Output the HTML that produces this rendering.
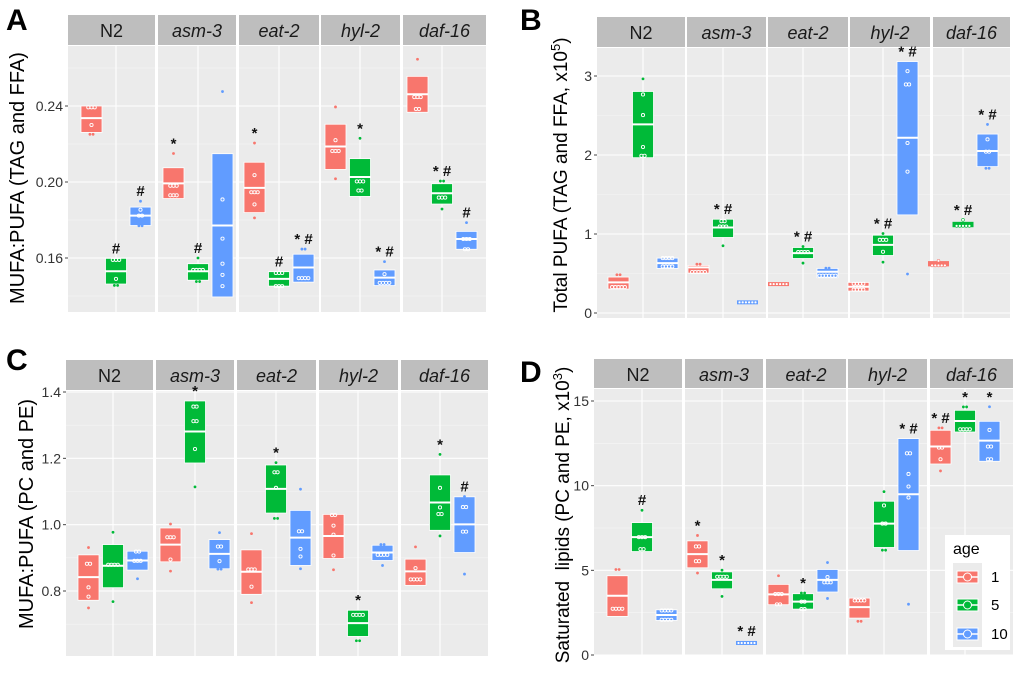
<!DOCTYPE html>
<html><head><meta charset="utf-8">
<style>
html,body{margin:0;padding:0;background:#fff;}
svg{display:block;font-family:"Liberation Sans",sans-serif;}
</style></head>
<body>
<svg id="fig" width="1020" height="681" viewBox="0 0 1020 681" xmlns="http://www.w3.org/2000/svg"></svg>
<script>
const facets = ['N2','asm-3','eat-2','hyl-2','daf-16'];
const ages = ['1','5','10'];
const colors = ['#F8766D','#00BA38','#619CFF'];

// Panel A: MUFA:PUFA (TAG and FFA)
const aTicks = [0.16,0.20,0.24];
const aLo  = [[0.2261,0.1463,0.1771],[0.1913,0.1483,0.1395],[0.1839,0.1452,0.1473],[0.2066,0.1924,0.1455],[0.2367,0.1884,0.1646]];
const aMid = [[0.2336,0.153,0.1823],[0.1993,0.153,0.1771],[0.1969,0.149,0.155],[0.2187,0.2026,0.1497],[0.2462,0.1941,0.170]];
const aHi  = [[0.240,0.1598,0.1868],[0.2075,0.157,0.2149],[0.2104,0.1528,0.162],[0.2304,0.2123,0.1537],[0.2556,0.1991,0.1740]];
const aPts = [
 [[0.2393,0.2393,0.2393,0.230,0.2251,0.2251],[0.159,0.159,0.159,0.149,0.1456,0.1456],[0.1899,0.1854,0.1823,0.1823,0.177,0.177]],
 [[0.215,0.198,0.198,0.198,0.193,0.193,0.193],[0.160,0.1537,0.1537,0.1537,0.1537,0.1476,0.1476],[0.2476,0.1908,0.1702,0.157,0.1511,0.1452]],
 [[0.2205,0.2036,0.1946,0.1946,0.1946,0.1882,0.1811],[0.1521,0.1521,0.1521,0.1452,0.1452,0.1452],[0.1647,0.1647,0.1494,0.1494,0.1494,0.1494]],
 [[0.2395,0.222,0.2163,0.2163,0.2163,0.2017],[0.223,0.2003,0.2003,0.2003,0.1955,0.1955],[0.1581,0.1515,0.1469,0.1469,0.1469,0.1469]],
 [[0.2646,0.2447,0.2447,0.2447,0.2384,0.2384],[0.2005,0.2005,0.1918,0.1918,0.1918,0.1858],[0.1786,0.170,0.170,0.170,0.1646,0.1646]]];
const aAnn = [['','#','#'],['*','#',''],['*','#','* #'],['','*','* #'],['','* #','#']];

// Panel B: Total PUFA
const bTicks = [0,1,2,3];
const bLo  = [[0.303,1.966,0.564],[0.505,0.956,0.11],[0.337,0.69,0.446],[0.278,0.728,1.242],[0.59,1.086,1.853]];
const bMid = [[0.387,2.387,0.632],[0.577,1.082,0.135],[0.366,0.758,0.522],[0.333,0.863,2.219],[0.632,1.137,2.05]];
const bHi  = [[0.455,2.804,0.695],[0.602,1.187,0.16],[0.387,0.829,0.564],[0.387,0.985,3.183],[0.657,1.154,2.265]];
const bPts = [
 [[0.484,0.484,0.328,0.328,0.328,0.328,0.328],[2.964,2.766,2.505,2.101,1.99,1.99],[0.695,0.695,0.695,0.695,0.589,0.589,0.589,0.589]],
 [[0.619,0.619,0.518,0.518,0.518,0.518,0.518],[1.162,1.162,1.095,1.095,1.095,0.851],[0.135,0.135,0.135,0.135,0.135,0.135]],
 [[0.366,0.366,0.366,0.366,0.366,0.366],[0.842,0.771,0.771,0.771,0.771,0.632],[0.568,0.568,0.472,0.472,0.472,0.472,0.472,0.472]],
 [[0.37,0.37,0.37,0.37,0.295,0.295,0.295,0.295],[1.006,0.926,0.926,0.926,0.775,0.644],[3.061,2.893,2.893,2.152,1.789,0.493]],
 [[0.661,0.602,0.602,0.602,0.602,0.602],[1.179,1.103,1.103,1.103,1.103,1.103],[2.387,2.198,2.042,2.042,1.832,1.832]]];
const bAnn = [['','',''],['','* #',''],['','* #',''],['','* #','* #'],['','* #','* #']];

// Panel C: MUFA:PUFA (PC and PE)
const cTicks = [0.8,1.0,1.2,1.4];
const cLo  = [[0.772,0.81,0.863],[0.888,1.186,0.867],[0.79,1.035,0.877],[0.898,0.663,0.892],[0.817,0.983,0.916]];
const cMid = [[0.842,0.876,0.892],[0.940,1.281,0.912],[0.858,1.108,0.961],[0.966,0.703,0.916],[0.859,1.067,1.001]];
const cHi  = [[0.909,0.94,0.920],[0.99,1.373,0.955],[0.924,1.18,1.043],[1.031,0.742,0.938],[0.896,1.15,1.084]];
const cPts = [
 [[0.931,0.882,0.882,0.811,0.783,0.749],[0.977,0.879,0.879,0.879,0.879,0.768],[0.919,0.919,0.891,0.891,0.891,0.837]],
 [[1.002,0.962,0.962,0.962,0.895,0.86],[1.356,1.356,1.312,1.312,1.228,1.114],[0.976,0.934,0.934,0.89,0.866,0.866]],
 [[0.973,0.865,0.865,0.865,0.813,0.765],[1.187,1.158,1.158,1.111,1.019,1.019],[1.107,0.98,0.98,0.927,0.904,0.867]],
 [[1.029,1.029,0.997,0.97,0.907,0.864],[0.728,0.728,0.728,0.728,0.65,0.65],[0.94,0.94,0.909,0.909,0.909,0.909,0.877]],
 [[0.933,0.869,0.835,0.835,0.835,0.835],[1.212,1.111,1.052,1.032,1.032,0.966],[1.085,1.053,1.053,0.979,0.979,0.851]]];
const cAnn = [['','',''],['','*',''],['','*',''],['','*',''],['','*','#']];

// Panel D: Saturated lipids
const dTicks = [0,5,10,15];
const dLo  = [[2.28,6.11,2.04],[5.15,3.91,0.6],[2.97,2.71,3.72],[2.18,6.35,6.17],[11.28,13.17,11.44]];
const dMid = [[3.5,6.96,2.36],[5.96,4.44,0.71],[3.58,3.15,4.44],[2.83,7.76,9.49],[12.31,13.82,12.66]];
const dHi  = [[4.68,7.82,2.67],[6.74,4.91,0.8],[4.17,3.62,5.05],[3.36,9.08,12.78],[13.27,14.45,13.8]];
const dPts = [
 [[5.05,5.05,2.73,2.73,2.73,2.73],[8.55,6.96,6.96,6.96,6.25,6.25],[2.63,2.63,2.63,2.63,2.08,2.08,2.08,2.08]],
 [[7.06,6.41,6.41,5.54,5.54,4.84],[5.01,4.62,4.62,4.62,4.62,3.46],[0.71,0.71,0.71,0.71,0.71,0.71]],
 [[4.68,3.6,3.6,3.6,2.99,2.99],[3.66,3.66,3.15,3.15,2.71,2.71],[5.46,4.6,4.29,4.29,4.29,3.34]],
 [[3.22,3.22,3.22,3.22,1.99,1.99],[9.65,8.83,7.76,7.76,6.19,6.19],[11.91,11.91,10.69,9.95,9.3,3.0]],
 [[13.41,13.41,12.25,12.25,11.56,10.87],[14.65,14.65,13.33,13.33,13.33,13.33],[14.66,13.29,12.31,12.31,11.56,11.56]]];
const dAnn = [['','#',''],['*','*','* #'],['','*',''],['','','* #'],['* #','*','*']];

const NS='http://www.w3.org/2000/svg';
const svg=document.getElementById('fig');
function mk(tag,attrs,parent){const e=document.createElementNS(NS,tag);for(const k in attrs)e.setAttribute(k,attrs[k]);(parent||svg).appendChild(e);return e;}

function drawPanel(cfg, lo, mid, hi, pts, ann){
  const g=mk('g',{});
  
  
  const [v0,v1]=cfg.tv, [p0,p1]=cfg.tp;
  const y=v=>p0+(v-v0)*(p1-p0)/(v1-v0);
  const L=mk('text',{x:cfg.letterX,y:cfg.letterY,'font-size':30,'font-weight':'bold',fill:'#000'},g);
  L.textContent=cfg.letter;
  
  
  facets.forEach((f,fi)=>{
    const [x0,x1]=cfg.fx[fi];
    const cx=cfg.fc[fi];
    const bg=mk('rect',{x:x0,y:cfg.plotTop,width:x1-x0,height:cfg.plotBot-cfg.plotTop,fill:'#EBEBEB'},g);
    
    
    const st=mk('rect',{x:x0,y:cfg.stripTop,width:x1-x0,height:cfg.plotTop-cfg.stripTop-1,fill:'#BEBEBE'},g);
    
    
    const stt=mk('text',{x:(x0+x1)/2,y:cfg.stripTop+22,'text-anchor':'middle','font-size':18,fill:'#1a1a1a','font-style':fi===0?'normal':'italic'},g);
    stt.textContent=f;
    
    
    cfg.ticks.forEach((t,ti)=>{
      mk('line',{x1:x0,x2:x1,y1:y(t),y2:y(t),stroke:'#fff','stroke-width':1.1},g);
      const mv=ti<cfg.ticks.length-1?(t+cfg.ticks[ti+1])/2:t+(cfg.ticks[1]-cfg.ticks[0])/2;
      if(y(mv)>cfg.plotTop) mk('line',{x1:x0,x2:x1,y1:y(mv),y2:y(mv),stroke:'#f6f6f6','stroke-width':0.6},g);
    });
    const fm=y(cfg.ticks[0])-(y(cfg.ticks[1])-y(cfg.ticks[0]))/2;
    if(fm<cfg.plotBot) mk('line',{x1:x0,x2:x1,y1:fm,y2:fm,stroke:'#f6f6f6','stroke-width':0.6},g);
    mk('line',{x1:cx,x2:cx,y1:cfg.plotTop,y2:cfg.plotBot,stroke:'#fff','stroke-width':1.1},g);
    ages.forEach((a,ai)=>{
      const bx=cx+(ai-1)*24.5, w=21;
      let yh=y(hi[fi][ai]), yl=y(lo[fi][ai]);
      const ym=y(mid[fi][ai]);
      const thin=(yl-yh)<6;
      if(yl-yh<4){yh=ym-2;yl=ym+2;}
      const box=mk('rect',{x:bx-w/2,y:yh,width:w,height:yl-yh,fill:colors[ai],stroke:thin?'none':'#fff','stroke-width':0.8},g);
      
      
      if(!thin) mk('line',{x1:bx-w/2,x2:bx+w/2,y1:ym,y2:ym,stroke:'#fff','stroke-width':2},g);
      const groups={};
      pts[fi][ai].forEach(v=>{const k=v.toFixed(4);groups[k]=(groups[k]||0)+1;});
      let top=yh;
      Object.keys(groups).forEach(k=>{
        const v=+k,n=groups[k],py=y(v);
        top=Math.min(top,py);
        const inside=!thin&&v>=lo[fi][ai]-1e-9&&v<=hi[fi][ai]+1e-9;
        for(let i=0;i<n;i++){
          const px=bx+(i-(n-1)/2)*3.2;
          const c=inside?mk('circle',{cx:px,cy:py,r:1.6,fill:'none',stroke:'#fff','stroke-width':0.9},g)
                        :mk('circle',{cx:px,cy:py,r:1.4,fill:thin?'#fff':colors[ai],stroke:thin?colors[ai]:'none','stroke-width':0.6},g);
          
          
        }
      });
      if(ann[fi][ai]){
        const at=mk('text',{x:bx,y:top-5,'text-anchor':'middle','font-size':15,'font-weight':'bold',fill:'#111'},g);
        at.textContent=ann[fi][ai];
        
        
      }
    });
  });
  cfg.ticks.forEach(t=>{
    const x0=cfg.fx[0][0];
    mk('line',{x1:x0-3,x2:x0,y1:y(t),y2:y(t),stroke:'#444','stroke-width':1},g);
    const tt=mk('text',{x:x0-5,y:y(t)+5,'text-anchor':'end','font-size':14,fill:'#333'},g);
    tt.textContent=cfg.fmt(t);
    
    
  });
  const yl=mk('text',{transform:`translate(${cfg.labX},${cfg.labY}) rotate(-90)`,'text-anchor':'middle','font-size':cfg.labSize,fill:'#000'},g);
  yl.innerHTML=cfg.label;
  
  
}

drawPanel({name:'panel-a',letter:'A',letterX:6,letterY:30,stripTop:15,plotTop:46,plotBot:312,
  fx:[[68,155],[158,236],[239,319],[321,400],[403,486]],fc:[116,198,279,360,442],
  tv:[0.20,0.24],tp:[182,106],ticks:aTicks,fmt:t=>t.toFixed(2),labX:24,labY:178,labSize:20,
  label:'MUFA:PUFA (TAG and FFA)'},aLo,aMid,aHi,aPts,aAnn);
drawPanel({name:'panel-b',letter:'B',letterX:520,letterY:30,stripTop:17,plotTop:48,plotBot:318,
  fx:[[597,685],[687,766],[768,848],[850,930],[933,1010]],fc:[643,723,803,883,963],
  tv:[0,3],tp:[313,76],ticks:bTicks,fmt:t=>String(t),labX:567,labY:175,labSize:19,
  label:'Total PUFA (TAG and FFA, x10<tspan font-size="13" dy="-7">5</tspan><tspan dy="7">)</tspan>'},bLo,bMid,bHi,bPts,bAnn);
drawPanel({name:'panel-c',letter:'C',letterX:6,letterY:370,stripTop:360,plotTop:391,plotBot:656,
  fx:[[66,153],[156,234],[237,316],[319,398],[401,488]],fc:[113,195,276,358,440],
  tv:[0.8,1.4],tp:[591,392],ticks:cTicks,fmt:t=>t.toFixed(1),labX:33,labY:514,labSize:20,
  label:'MUFA:PUFA (PC and PE)'},cLo,cMid,cHi,cPts,cAnn);
drawPanel({name:'panel-d',letter:'D',letterX:520,letterY:382,stripTop:359,plotTop:389,plotBot:655,
  fx:[[594,682],[685,763],[766,846],[848,927],[930,1013]],fc:[642,722,803,884,965],
  tv:[0,15],tp:[655,401],ticks:dTicks,fmt:t=>String(t),labX:569,labY:515,labSize:19,
  label:'Saturated&#160; lipids (PC and PE, x10<tspan font-size="13" dy="-7">3</tspan><tspan dy="7">)</tspan>'},dLo,dMid,dHi,dPts,dAnn);

const lg=mk('g',{});


mk('rect',{x:945,y:535,width:65,height:115,fill:'#fff'},lg);
const lt=mk('text',{x:953,y:554,'font-size':16,fill:'#000'},lg);
lt.textContent='age';


mk('rect',{x:953,y:563,width:29,height:84,fill:'#EBEBEB'},lg);
ages.forEach((a,i)=>{
  const cy=[577,605,634][i];
  const e=mk('g',{},lg);
  
  
  mk('rect',{x:957,y:cy-6,width:21,height:12,fill:colors[i],stroke:'#fff','stroke-width':1},e);
  mk('line',{x1:957,x2:978,y1:cy,y2:cy,stroke:'#fff','stroke-width':1.5},e);
  mk('circle',{cx:967.5,cy:cy,r:4,fill:colors[i],stroke:'#fff','stroke-width':1},e);
  const t=mk('text',{x:991,y:cy+5,'font-size':15,fill:'#000'},e);
  t.textContent=a;
});
</script>
</body></html>
